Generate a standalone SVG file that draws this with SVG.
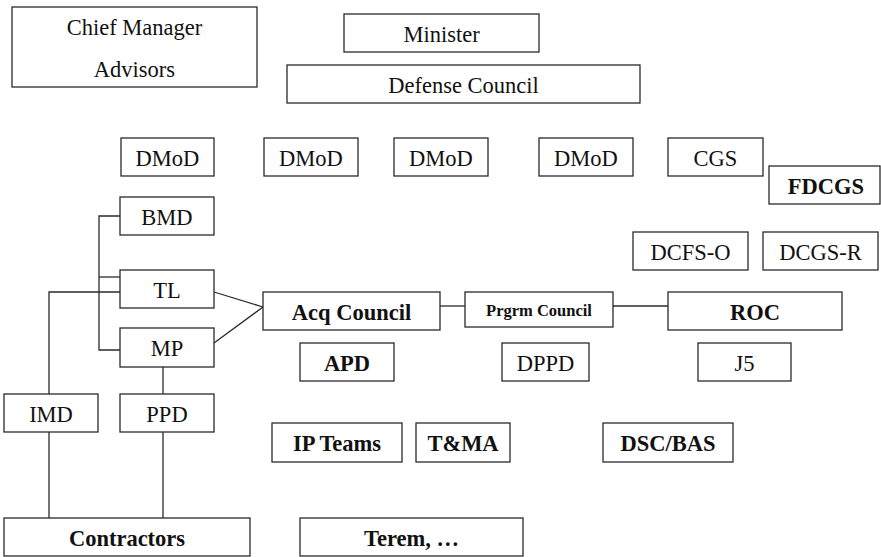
<svg xmlns="http://www.w3.org/2000/svg" width="881" height="557" viewBox="0 0 881 557" font-family="'Liberation Serif', 'DejaVu Serif', serif">
  <style>
    .box { fill: #ffffff; stroke: #2a2a2a; stroke-width: 1.3; }
    text { font-family: 'Liberation Serif', 'DejaVu Serif', serif; }
    .lbl { font-size: 22.5px; fill: #111; text-anchor: middle; }
    .b { font-weight: bold; }
    .sm { font-size: 16.5px; }
    .link { fill: none; stroke: #2a2a2a; stroke-width: 1.3; }
  </style>
  <rect width="881" height="557" fill="#ffffff"/>

  <!-- connectors -->
  <g id="connectors">
    <polyline class="link" points="120,216 99,216 99,350 120,350"/>
    <line class="link" x1="99" y1="277" x2="120" y2="277"/>
    <polyline class="link" points="120,292 49,292 49,394"/>
    <line class="link" x1="214" y1="292" x2="263" y2="307"/>
    <line class="link" x1="214" y1="343" x2="263" y2="307"/>
    <line class="link" x1="163" y1="367" x2="163" y2="394"/>
    <line class="link" x1="49" y1="432" x2="49" y2="518"/>
    <line class="link" x1="163" y1="432" x2="163" y2="518"/>
    <line class="link" x1="440" y1="306" x2="465" y2="306"/>
    <line class="link" x1="613" y1="306" x2="668" y2="306"/>
  </g>

  <g id="chief-manager">
    <rect class="box" x="12" y="7" width="245" height="80"/>
    <text class="lbl" x="134.5" y="35">Chief Manager</text>
    <text class="lbl" x="134.5" y="77">Advisors</text>
  </g>
  <g id="minister">
    <rect class="box" x="344" y="14" width="195" height="38"/>
    <text class="lbl" x="441.5" y="42">Minister</text>
  </g>
  <g id="defense-council">
    <rect class="box" x="287" y="65" width="353" height="38"/>
    <text class="lbl" x="463.5" y="93">Defense Council</text>
  </g>

  <g id="dmod-1">
    <rect class="box" x="121" y="138" width="93" height="38"/>
    <text class="lbl" x="167.5" y="166">DMoD</text>
  </g>
  <g id="dmod-2">
    <rect class="box" x="264" y="138" width="94" height="38"/>
    <text class="lbl" x="311" y="166">DMoD</text>
  </g>
  <g id="dmod-3">
    <rect class="box" x="394" y="138" width="94" height="38"/>
    <text class="lbl" x="441" y="166">DMoD</text>
  </g>
  <g id="dmod-4">
    <rect class="box" x="539" y="138" width="94" height="38"/>
    <text class="lbl" x="586" y="166">DMoD</text>
  </g>
  <g id="cgs">
    <rect class="box" x="668" y="138" width="95" height="38"/>
    <text class="lbl" x="715.5" y="166">CGS</text>
  </g>
  <g id="fdcgs">
    <rect class="box" x="769" y="166" width="111" height="38"/>
    <text class="lbl b" x="826" y="194">FDCGS</text>
  </g>
  <g id="dcfs-o">
    <rect class="box" x="633" y="232" width="115" height="38"/>
    <text class="lbl" x="690.5" y="260">DCFS-O</text>
  </g>
  <g id="dcgs-r">
    <rect class="box" x="763" y="232" width="115" height="38"/>
    <text class="lbl" x="820.5" y="260">DCGS-R</text>
  </g>

  <g id="bmd">
    <rect class="box" x="120" y="197" width="94" height="38"/>
    <text class="lbl" x="167" y="225">BMD</text>
  </g>
  <g id="tl">
    <rect class="box" x="120" y="270" width="94" height="38"/>
    <text class="lbl" x="167" y="298">TL</text>
  </g>
  <g id="mp">
    <rect class="box" x="120" y="328" width="94" height="39"/>
    <text class="lbl" x="167" y="356">MP</text>
  </g>

  <g id="acq-council">
    <rect class="box" x="263" y="292" width="177" height="38"/>
    <text class="lbl b" x="351.5" y="320">Acq Council</text>
  </g>
  <g id="prgrm-council">
    <rect class="box" x="465" y="292" width="148" height="35"/>
    <text class="lbl b sm" x="539" y="316">Prgrm Council</text>
  </g>
  <g id="roc">
    <rect class="box" x="668" y="292" width="174" height="38"/>
    <text class="lbl b" x="755" y="320">ROC</text>
  </g>

  <g id="apd">
    <rect class="box" x="300" y="343" width="94" height="38"/>
    <text class="lbl b" x="347" y="371">APD</text>
  </g>
  <g id="dppd">
    <rect class="box" x="502" y="343" width="87" height="38"/>
    <text class="lbl" x="545.5" y="371">DPPD</text>
  </g>
  <g id="j5">
    <rect class="box" x="698" y="343" width="93" height="38"/>
    <text class="lbl" x="744.5" y="371">J5</text>
  </g>

  <g id="imd">
    <rect class="box" x="4" y="394" width="94" height="38"/>
    <text class="lbl" x="51" y="422">IMD</text>
  </g>
  <g id="ppd">
    <rect class="box" x="120" y="394" width="94" height="38"/>
    <text class="lbl" x="167" y="422">PPD</text>
  </g>

  <g id="ip-teams">
    <rect class="box" x="272" y="423" width="130" height="39"/>
    <text class="lbl b" x="337" y="451">IP Teams</text>
  </g>
  <g id="tma">
    <rect class="box" x="416" y="423" width="94" height="39"/>
    <text class="lbl b" x="463" y="451">T&amp;MA</text>
  </g>
  <g id="dsc-bas">
    <rect class="box" x="603" y="423" width="130" height="39"/>
    <text class="lbl b" x="668" y="451">DSC/BAS</text>
  </g>

  <g id="contractors">
    <rect class="box" x="4" y="518" width="246" height="38"/>
    <text class="lbl b" x="127" y="546">Contractors</text>
  </g>
  <g id="terem">
    <rect class="box" x="300" y="518" width="223" height="38"/>
    <text class="lbl b" x="411.5" y="546">Terem, …</text>
  </g>
</svg>
